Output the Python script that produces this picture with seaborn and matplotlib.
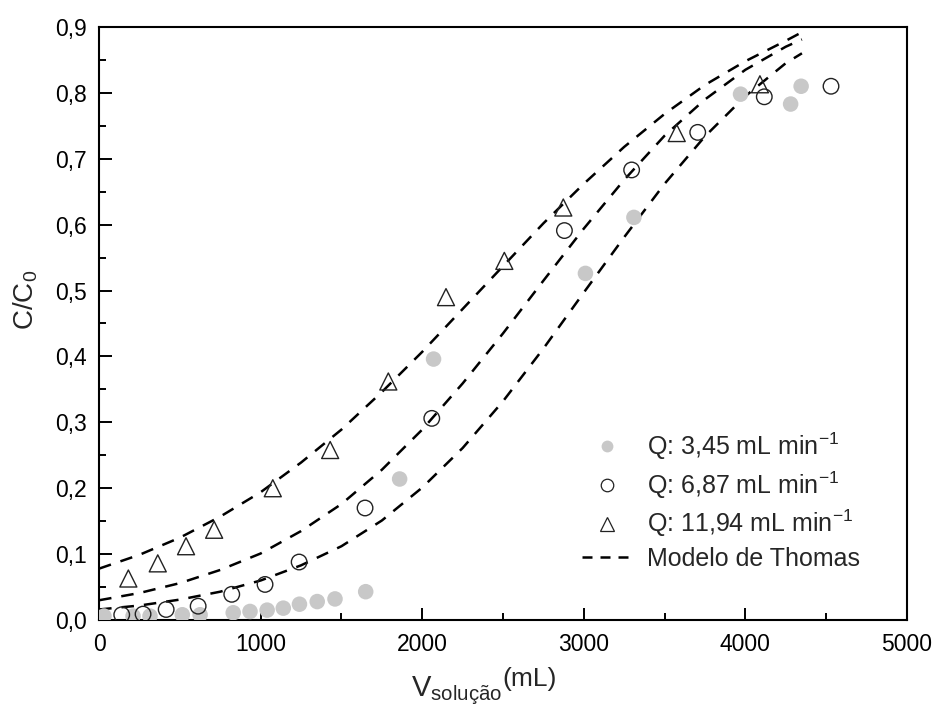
import numpy as np
import pandas as pd
import matplotlib
matplotlib.use("Agg")
import matplotlib.pyplot as plt
import seaborn as sns
from matplotlib.ticker import MultipleLocator, FuncFormatter
from matplotlib.lines import Line2D

# ---- data ----
v_q345 = [30, 210, 315, 515, 625, 830, 934, 1040, 1140, 1240, 1350, 1460, 1650,
          1860, 2070, 3010, 3310, 3970, 4280, 4345]
c_q345 = [0.006, 0.006, 0.006, 0.008, 0.008, 0.011, 0.013, 0.015, 0.018, 0.024, 0.028, 0.032, 0.043,
          0.214, 0.396, 0.526, 0.611, 0.798, 0.783, 0.810]

v_q687 = [140, 272, 415, 613, 821, 1027, 1238, 1646, 2059, 2880, 3296, 3705, 4117, 4530]
c_q687 = [0.008, 0.009, 0.016, 0.021, 0.039, 0.054, 0.088, 0.170, 0.306, 0.591, 0.683, 0.740, 0.794, 0.810]

v_q1194 = [181, 363, 538, 712, 1075, 1430, 1790, 2147, 2508, 2873, 3575, 4090]
c_q1194 = [0.063, 0.086, 0.112, 0.137, 0.200, 0.258, 0.362, 0.490, 0.545, 0.626, 0.739, 0.813]

# Thomas model curves (dashed)
v_model = [0, 250, 500, 750, 1000, 1250, 1500, 1750, 2000, 2250, 2500, 2750,
           3000, 3250, 3500, 3750, 4000, 4250, 4350]
thomas_q1194 = [0.078, 0.099, 0.125, 0.157, 0.194, 0.239, 0.289, 0.346, 0.407, 0.472, 0.537, 0.602,
                0.662, 0.718, 0.768, 0.812, 0.848, 0.879, 0.892]
thomas_q687 = [0.030, 0.041, 0.056, 0.076, 0.101, 0.135, 0.176, 0.228, 0.289, 0.359, 0.435, 0.515,
               0.594, 0.668, 0.735, 0.790, 0.835, 0.870, 0.881]
thomas_q345 = [0.016, 0.022, 0.031, 0.043, 0.060, 0.083, 0.112, 0.151, 0.201, 0.261, 0.332, 0.412,
               0.497, 0.581, 0.662, 0.734, 0.795, 0.845, 0.860]

labels = ["Q: 3,45 mL min$^{\\mathregular{-1}}$",
          "Q: 6,87 mL min$^{\\mathregular{-1}}$",
          "Q: 11,94 mL min$^{\\mathregular{-1}}$",
          "Modelo de Thomas"]

sns.set_style("ticks")
plt.rcParams["font.family"] = ["Liberation Sans", "DejaVu Sans"]
plt.rcParams["mathtext.fontset"] = "custom"
plt.rcParams["mathtext.rm"] = "Liberation Sans"
plt.rcParams["mathtext.it"] = "Liberation Sans"

W, H = 935, 709
fig = plt.figure(figsize=(W / 100, H / 100), dpi=100)
ax = fig.add_axes([0.106, 0.1255, 0.864, 0.8365])

dash = (0, (5, 4))
lw = 1.8
for vm, cm in [(v_model, thomas_q1194), (v_model, thomas_q687), (v_model, thomas_q345)]:
    sns.lineplot(x=vm, y=cm, ax=ax, color="black", lw=lw, linestyle=dash,
                 sort=False, estimator=None, legend=False)

sns.scatterplot(x=v_q345, y=c_q345, ax=ax, marker="o", s=125, color="#c8c8c8",
                edgecolor="none", linewidth=0, legend=False, zorder=3)
sns.scatterplot(x=v_q687, y=c_q687, ax=ax, marker="o", s=125, facecolor="none",
                edgecolor="#222222", linewidth=1.0, legend=False, zorder=4)
sns.scatterplot(x=v_q1194, y=c_q1194, ax=ax, marker="^", s=150, facecolor="none",
                edgecolor="#222222", linewidth=1.0, legend=False, zorder=4)

ax.set_xlim(0, 5000)
ax.set_ylim(0, 0.9)
ax.xaxis.set_major_locator(MultipleLocator(1000))
ax.xaxis.set_minor_locator(MultipleLocator(500))
ax.yaxis.set_major_locator(MultipleLocator(0.1))
ax.yaxis.set_minor_locator(MultipleLocator(0.05))
ax.xaxis.set_major_formatter(FuncFormatter(lambda v, p: f"{v:.0f}"))
ax.yaxis.set_major_formatter(FuncFormatter(lambda v, p: f"{v:.1f}".replace(".", ",")))

ax.tick_params(which="both", direction="in", top=False, right=False, width=1.4, colors="black")
ax.tick_params(which="major", length=9, labelsize=16.5)
ax.tick_params(axis="y", which="major", pad=9)
ax.tick_params(axis="x", which="major", pad=9)
ax.tick_params(which="minor", length=5)
for s in ax.spines.values():
    s.set_visible(True)
    s.set_linewidth(1.5)
    s.set_color("black")

ax.set_xlabel("")
ax.set_ylabel("C/C$_{\\mathregular{0}}$", fontsize=20)
ax.yaxis.set_label_coords(-0.073, 0.54)

handles = [
    Line2D([], [], ls="none", marker="o", ms=8.5, mfc="#c8c8c8", mec="none"),
    Line2D([], [], ls="none", marker="o", ms=9, mfc="none", mec="#222222", mew=0.9),
    Line2D([], [], ls="none", marker="^", ms=10, mfc="none", mec="#222222", mew=0.9),
    Line2D([], [], color="black", lw=lw, linestyle=(0, (4, 3.2))),
]
ax.legend(handles, labels, loc="upper left", bbox_to_anchor=(0.598, 0.32),
          borderaxespad=0, borderpad=0,
          frameon=False, fontsize=18, handlelength=2.0, handletextpad=0.6,
          labelspacing=0.3)

# x-axis label: "V_solução" followed by a raised "(mL)", as in the original
fig.canvas.draw()
rend = fig.canvas.get_renderer()
base_y = 1 - 696 / H
t1 = fig.text(0, base_y, "V$_{\\mathregular{solução}}$", fontsize=21, va="baseline", ha="left")
t2 = fig.text(0, base_y + 10 / H, "(mL)", fontsize=19, va="baseline", ha="left")
w1 = t1.get_window_extent(rend).width
w2 = t2.get_window_extent(rend).width
x0 = 484 - (w1 + w2) / 2
t1.set_x(x0 / W)
t2.set_x((x0 + w1) / W)

fig.savefig("out.png", dpi=100)
